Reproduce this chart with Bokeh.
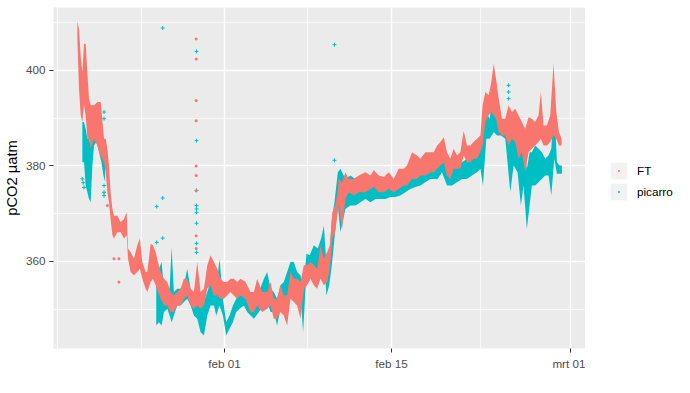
import numpy as np
import pandas as pd
from bokeh.plotting import figure
from bokeh.layouts import row
from bokeh.models import ColumnDataSource, FixedTicker, Range1d, Legend, LegendItem
from bokeh.embed import file_html
from bokeh.resources import INLINE

# time in days relative to 2020-02-01 00:00; each sample: lower / upper edge of the point cloud (pCO2, µatm)
ft_t = [
    -12.35, -12.21, -12.07, -11.93, -11.79, -11.65, -11.51, -11.37, -11.23, -10.95,
    -10.67, -10.39, -10.11, -9.97, -9.83, -9.69, -9.56, -9.41, -9.28, -8.99,
    -8.72, -8.44, -8.21, -8.10, -7.88, -7.60, -7.32, -7.10, -6.90, -6.62,
    -6.48, -6.20, -6.01, -5.78, -5.59, -5.36, -5.08, -4.80, -4.53, -4.25,
    -3.97, -3.69, -3.41, -3.13, -2.85, -2.57, -2.29, -2.01, -1.73, -1.45,
    -1.17, -0.89, -0.61, -0.34, -0.06, 0.22, 0.50, 0.78, 1.06, 1.34,
    1.76, 2.18, 2.46, 2.74, 3.16, 3.58, 3.86, 4.13, 4.41, 4.69,
    4.97, 5.25, 5.53, 5.81, 6.09, 6.37, 6.65, 6.93, 7.21, 7.49,
    7.77, 8.05, 8.33, 8.61, 8.83, 9.05, 9.27, 9.50,
    9.58, 9.86, 10.14, 10.42, 10.84, 11.26, 11.82, 12.24, 12.52, 12.94,
    13.36, 13.78, 14.19, 14.61, 15.03, 15.31, 15.73, 16.15, 16.43, 16.85,
    17.27, 17.55, 17.83, 18.11, 18.39, 18.66, 18.94, 19.22, 19.50, 19.78,
    20.06, 20.34, 20.62, 20.90, 21.18, 21.46, 21.65, 21.88, 22.16, 22.38,
    22.58, 22.77, 23.00, 23.27, 23.55, 23.83, 24.11, 24.39, 24.66, 24.94,
    25.22, 25.50, 25.78, 26.06, 26.34, 26.54, 26.76, 27.04, 27.32, 27.60,
    27.83, 28.05, 28.27,
]
ft_lo = [
    406.6, 396.2, 390.6, 389.2, 392.7, 390.6, 385.7, 385.7, 383.6, 385.7,
    384.3, 382.2, 380.8, 378.7, 374.5, 372.4, 368.9, 365.5, 364.8, 366.1,
    366.1, 364.8, 365.5, 360.6, 357.8, 357.1, 357.8, 358.5, 356.4, 354.3,
    353.6, 355.7, 356.4, 355.0, 353.6, 352.2, 350.8, 350.8, 349.4, 349.4,
    350.8, 350.8, 352.2, 352.9, 350.8, 350.1, 350.8, 350.1, 350.8, 354.3,
    355.0, 352.9, 352.9, 352.2, 352.2, 352.9, 353.6, 352.9, 352.2, 352.9,
    352.2, 349.4, 349.4, 350.8, 349.4, 350.1, 350.8, 348.0, 348.0, 349.4,
    348.7, 346.6, 352.2, 351.5, 350.8, 348.0, 354.3, 355.0, 356.4, 355.0,
    354.3, 356.4, 355.0, 355.7, 358.5, 364.8, 366.1, 370.3,
    371.7, 366.8, 373.1, 374.5, 373.8, 374.5, 374.5, 375.2, 375.6, 374.5,
    374.5, 375.2, 374.5, 375.2, 375.9, 375.9, 377.3, 377.3, 378.0, 378.0,
    378.7, 378.7, 379.4, 380.1, 380.8, 378.0, 377.3, 379.4, 379.4, 379.4,
    382.2, 380.8, 380.8, 381.5, 381.5, 382.9, 384.3, 389.2, 390.6, 391.3,
    390.6, 389.9, 387.1, 386.4, 386.4, 384.3, 385.7, 385.0, 381.5, 382.9,
    378.7, 382.9, 383.6, 384.3, 385.0, 385.7, 384.3, 384.3, 385.0, 386.4,
    385.7, 384.3, 384.3,
]
ft_hi = [
    410.3, 408.7, 403.1, 399.6, 405.6, 405.6, 399.6, 394.1, 392.7, 392.7,
    393.4, 393.4, 385.7, 385.7, 383.6, 380.1, 374.5, 371.0, 369.6, 369.6,
    368.2, 368.9, 370.3, 362.7, 362.0, 360.6, 363.4, 364.8, 359.9, 357.8,
    357.8, 363.7, 363.4, 362.0, 359.9, 357.8, 356.4, 355.7, 353.6, 352.9,
    353.6, 354.3, 356.4, 356.4, 354.3, 353.6, 359.9, 353.6, 354.3, 359.2,
    361.3, 359.9, 358.5, 356.4, 355.7, 355.7, 356.4, 356.4, 355.7, 356.4,
    355.7, 353.6, 353.6, 356.4, 353.6, 353.6, 355.7, 352.2, 352.2, 355.0,
    352.9, 352.9, 357.8, 356.4, 356.4, 355.7, 359.2, 359.2, 359.9, 359.2,
    358.5, 363.4, 360.6, 362.0, 363.4, 370.3, 371.7, 374.5,
    377.3, 376.6, 378.7, 377.3, 377.3, 378.0, 378.7, 378.0, 379.1, 378.0,
    377.7, 378.7, 377.3, 379.4, 379.4, 380.1, 382.9, 382.2, 381.5, 382.9,
    382.9, 382.9, 384.3, 385.0, 386.0, 382.9, 381.5, 383.6, 382.2, 382.9,
    387.4, 384.3, 384.3, 385.0, 385.7, 386.4, 392.7, 395.5, 394.8, 397.6,
    401.4, 398.3, 394.1, 389.9, 389.9, 392.7, 391.3, 392.0, 390.6, 389.2,
    387.8, 390.2, 389.9, 389.2, 390.6, 395.5, 388.5, 388.5, 390.6, 401.4,
    391.3, 387.1, 385.7,
]

pc_t = [
    -11.93, -11.79, -11.65, -11.51, -11.37, -11.23, -11.09, -10.95, -10.75, -10.53,
    -10.33, -10.16, -10.02,
    -5.73, -5.50, -5.28, -5.08, -4.80, -4.61, -4.44, -4.25, -3.97, -3.69,
    -3.41, -3.13, -2.85, -2.57, -2.29, -2.01, -1.73, -1.45, -1.17, -0.89,
    -0.70, -0.42, -0.14, 0.14, 0.42, 0.70, 0.98, 1.26, 1.62, 1.90,
    2.18, 2.46, 2.88, 3.30, 3.58, 3.86, 4.13, 4.41, 4.69, 4.97,
    5.25, 5.53, 5.81, 6.09, 6.37, 6.59, 6.87, 7.15, 7.49, 7.82,
    8.10, 8.33, 8.55, 8.78, 9.00, 9.22, 9.50, 9.72, 10.14, 10.56,
    10.98, 11.40, 11.82, 12.24, 12.66, 13.08, 13.50, 13.92, 14.33, 14.75,
    15.17, 15.59, 16.01, 16.43, 16.85, 17.27, 17.55, 17.88, 18.24, 18.66,
    19.08, 19.50, 19.92, 20.34, 20.76, 21.18, 21.46, 21.68, 21.96, 22.24,
    22.58, 22.86, 23.19, 23.55, 23.97, 24.25, 24.58, 24.86, 25.08, 25.36,
    25.59, 25.78, 26.06, 26.34, 26.62, 26.90, 27.18, 27.41, 27.66, 27.88,
    28.10, 28.30,
]
pc_lo = [
    380.8, 380.8, 375.9, 374.5, 373.1, 372.4, 380.1, 384.3, 385.0, 382.9,
    380.8, 378.0, 376.6,
    346.6, 347.3, 346.6, 349.4, 350.1, 348.7, 347.3, 348.7, 350.8, 350.8,
    351.5, 352.2, 350.8, 348.7, 348.0, 345.2, 344.5, 348.7, 350.8, 350.8,
    348.7, 350.8, 348.7, 344.5, 345.9, 347.3, 349.4, 350.1, 350.8, 349.4,
    348.7, 348.0, 349.4, 350.8, 351.5, 349.4, 349.4, 346.6, 350.1, 349.4,
    352.2, 353.6, 355.0, 353.6, 352.9, 345.2, 357.8, 357.1, 357.8, 357.1,
    358.5, 360.6, 352.9, 355.0, 359.2, 364.8, 371.7, 366.1, 371.0, 371.7,
    371.7, 372.4, 373.1, 372.4, 373.1, 373.1, 373.1, 373.5, 373.5, 373.8,
    374.5, 375.2, 375.6, 375.9, 376.6, 377.3, 377.3, 377.3, 378.7, 375.9,
    375.9, 376.6, 377.3, 377.3, 378.0, 378.7, 379.4, 375.9, 385.7, 385.7,
    387.1, 386.4, 386.4, 385.7, 374.5, 380.1, 378.7, 371.7, 375.9, 366.8,
    371.7, 375.9, 375.9, 376.6, 377.3, 378.0, 378.0, 373.8, 381.5, 378.4,
    378.4, 378.4,
]
pc_hi = [
    389.2, 389.2, 387.8, 385.7, 385.7, 384.3, 387.8, 388.5, 388.5, 387.1,
    385.7, 384.3, 382.2,
    359.2, 358.5, 359.9, 354.3, 354.3, 354.3, 363.0, 353.6, 354.3, 354.3,
    355.0, 358.5, 354.3, 352.2, 352.2, 352.2, 351.5, 353.6, 355.7, 357.8,
    354.3, 360.6, 352.2, 347.3, 348.7, 350.8, 352.2, 353.6, 353.6, 354.3,
    352.9, 352.9, 353.6, 356.4, 357.8, 354.3, 353.6, 352.2, 355.0, 355.7,
    357.8, 359.9, 359.9, 357.8, 357.1, 353.6, 361.6, 361.3, 363.4, 362.7,
    364.8, 367.5, 359.2, 360.6, 368.9, 372.4, 378.7, 379.4, 377.3, 378.0,
    377.3, 377.3, 378.7, 375.9, 376.6, 376.6, 375.9, 375.9, 376.6, 376.6,
    378.0, 378.7, 378.7, 378.7, 380.1, 380.8, 380.8, 382.9, 382.2, 380.1,
    379.4, 380.1, 380.8, 381.5, 382.2, 382.9, 383.6, 391.3, 391.3, 389.9,
    396.5, 390.6, 389.2, 388.5, 387.1, 385.7, 385.0, 382.9, 384.3, 379.4,
    382.9, 382.9, 384.3, 383.6, 382.9, 381.5, 382.2, 383.6, 394.1, 380.8,
    380.1, 380.1,
]

# isolated points
ft_out_t = [-9.83, -9.28, -8.86, -8.86, -2.38, -2.38, -2.38, -2.38, -2.38, -2.38, -2.38, -2.38, -2.38]
ft_out_v = [371.7, 360.6, 360.6, 355.7, 406.6, 402.4, 393.7, 389.5, 380.0, 378.0, 374.8, 365.4, 362.7]
pc_out_t = [-11.93, -11.86, -11.79, -10.11, -10.11, -10.11, -10.11, -10.11, -5.69, -5.69,
            -5.19, -5.19, -5.19, -2.35, -2.35, -2.35, -2.35, -2.35, -2.35, -2.35,
            -2.35, -2.35, 9.22, 9.22, 23.83, 23.83, 23.83]
pc_out_v = [377.3, 376.5, 375.5, 391.3, 389.9, 375.9, 374.5, 373.8, 371.5, 364.0,
            408.9, 373.3, 364.9, 404.0, 385.3, 374.9, 371.7, 371.0, 370.3, 368.0,
            363.8, 361.9, 405.4, 381.2, 396.9, 395.5, 394.1]

series_names = ["FT", "picarro"]
series_colors = ["#F8766D", "#00BFC4"]

tick_dates = ["2020-02-01", "2020-02-15", "2020-03-01"]
tick_labels = ["feb 01", "feb 15", "mrt 01"]
minor_dates = ["2020-01-18", "2020-01-25", "2020-02-08", "2020-02-22 12:00"]
y_major = [360, 380, 400]
y_minor = [350, 370, 390, 410]

base = pd.Timestamp("2020-02-01")


def to_dt(t):
    return base + pd.to_timedelta(np.asarray(t, dtype=float), unit="D")


def ms(d):
    return pd.Timestamp(d).value / 1e6


def segments(t, lo, hi, gap=2.0):
    t = np.asarray(t); lo = np.asarray(lo); hi = np.asarray(hi)
    cuts = np.where(np.diff(t) > gap)[0] + 1
    out = []
    for idx in np.split(np.arange(len(t)), cuts):
        out.append(ColumnDataSource(dict(x=to_dt(t[idx]), lo=lo[idx], hi=hi[idx])))
    return out


FONT = "Liberation Sans"

p = figure(
    width=585, height=393,
    x_axis_type="datetime",
    x_range=Range1d(ms(base - pd.Timedelta(days=14.35)), ms(base + pd.Timedelta(days=30.28))),
    y_range=Range1d(341.78, 413.19),
    output_backend="svg", toolbar_location=None,
    min_border_left=53, min_border_right=0, min_border_top=7, min_border_bottom=45,
)
p.background_fill_color = "#EBEBEB"
p.border_fill_color = "white"
p.outline_line_color = None

# x axis
xt = FixedTicker(ticks=[ms(d) for d in tick_dates], minor_ticks=[ms(d) for d in minor_dates])
p.xaxis.ticker = xt
p.xgrid.ticker = xt
p.xaxis.major_label_overrides = {ms(d): lab for d, lab in zip(tick_dates, tick_labels)}
# y axis
yt = FixedTicker(ticks=y_major, minor_ticks=y_minor)
p.yaxis.ticker = yt
p.ygrid.ticker = yt
p.yaxis.axis_label = "pCO2 µatm"

for ax in (p.xaxis, p.yaxis):
    ax.axis_line_color = None
    ax.major_tick_line_color = "#333333"
    ax.major_tick_line_width = 1
    ax.major_tick_in = 0
    ax.major_tick_out = 4
    ax.minor_tick_line_color = None
    ax.major_label_text_font = FONT
    ax.major_label_text_font_size = "11.7px"
    ax.major_label_text_color = "#4D4D4D"
    ax.major_label_standoff = 4
    ax.axis_label_text_font = FONT
    ax.axis_label_text_font_size = "14.7px"
    ax.axis_label_text_font_style = "normal"
    ax.axis_label_text_color = "black"
    ax.axis_label_standoff = 3

for g in (p.xgrid, p.ygrid):
    g.grid_line_color = "white"
    g.grid_line_width = 1.4
    g.minor_grid_line_color = "white"
    g.minor_grid_line_width = 0.7

# picarro first, FT on top
for src in segments(pc_t, pc_lo, pc_hi):
    p.varea(x="x", y1="lo", y2="hi", source=src, fill_color=series_colors[1])
for src in segments(ft_t, ft_lo, ft_hi):
    p.varea(x="x", y1="lo", y2="hi", source=src, fill_color=series_colors[0])

p.scatter(x=to_dt(pc_out_t), y=pc_out_v, marker="cross", size=4, line_width=1,
          line_color=series_colors[1])
p.scatter(x=to_dt(ft_out_t), y=ft_out_v, marker="dot", size=12,
          line_color=series_colors[0])

# legend panel (separate narrow figure to the right)
lg = figure(width=105, height=393, x_range=Range1d(0, 1), y_range=Range1d(0, 1),
            output_backend="svg", toolbar_location=None,
            x_axis_location=None, y_axis_location=None,
            min_border_left=0, min_border_right=0, min_border_top=0, min_border_bottom=0)
lg.outline_line_color = None
lg.grid.visible = False
lg.background_fill_color = "white"
lg.border_fill_color = "white"

nan_src = ColumnDataSource(dict(x=[np.nan], y=[np.nan]))
key_bg = lg.quad(left="x", right="x", bottom="y", top="y", source=nan_src,
                 fill_color="#F2F2F2", line_color=None)
key_r = []
for c in series_colors:
    key_r.append(lg.scatter(x="x", y="y", source=nan_src, marker="dot", size=10, line_color=c))

legend = Legend(
    items=[LegendItem(label=n, renderers=[key_bg, r]) for n, r in zip(series_names, key_r)],
    location=(23, 146),
    glyph_width=21, glyph_height=21, spacing=-2, padding=0, margin=0,
    label_standoff=8, label_height=21,
    label_text_font=FONT, label_text_font_size="11.7px", label_text_color="black",
    background_fill_alpha=0, border_line_color=None,
)
lg.add_layout(legend)

open("out.html", "w").write(file_html(row(p, lg), INLINE))
